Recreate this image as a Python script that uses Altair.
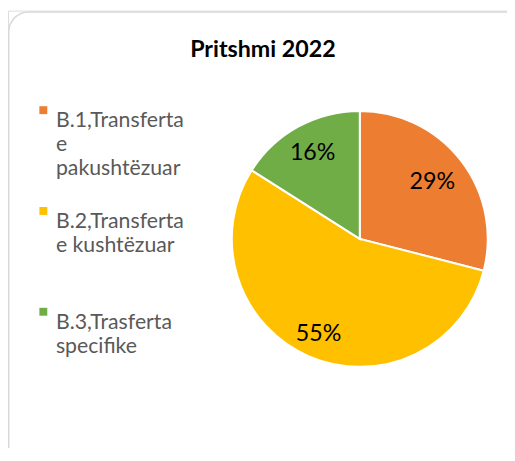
import altair as alt
import pandas as pd

# ---- data ----
categories = [
    "B.1,Transferta e pakushtëzuar",
    "B.2,Transferta e kushtëzuar",
    "B.3,Trasferta specifike",
]
legend_lines = [
    ["B.1,Transferta", "e", "pakushtëzuar"],
    ["B.2,Transferta", "e kushtëzuar", " "],
    ["B.3,Trasferta", "specifike"],
]
shares = [29, 55, 16]
colors = ["#ED7D31", "#FFC000", "#70AD47"]
title_text = "Pritshmi 2022"

# label distance from the centre for each slice (style, per slice)
label_radius = [93, 105, 99]

df = pd.DataFrame({"category": categories, "share": shares})

def js_str(s):
    return "'" + s.replace("'", "\\'") + "'"

lines_js = "[" + ",".join("[" + ",".join(js_str(x) for x in l) + "]" for l in legend_lines) + "]"
cats_js = "[" + ",".join(js_str(c) for c in categories) + "]"
label_expr = f"{lines_js}[indexof({cats_js}, datum.label)]"

CX, CY = 356, 231

color = alt.Color(
    "category:N",
    scale=alt.Scale(domain=categories, range=colors),
    legend=alt.Legend(
        orient="none",
        legendX=25,
        legendY=90,
        title=None,
        symbolType="square",
        symbolSize=64,
        symbolStrokeWidth=0,
        symbolOpacity=1,
        labelFont="Lato",
        labelFontSize=21.5,
        labelColor="#595959",
        labelBaseline="top",
        labelOffset=2,
        labelLimit=0,
        rowPadding=20,
        padding=0,
        labelExpr=label_expr,
    ),
)

base = alt.Chart(df).transform_calculate(
    label="datum.share + '%'"
)

pie = base.mark_arc(radius=129.5, stroke="white", strokeWidth=2).encode(
    theta=alt.Theta("share:Q", stack=True),
    color=color,
    order=alt.Order("category:N"),
    x=alt.value(CX),
    y=alt.value(CY),
)

label_layers = []
for cat, r in zip(categories, label_radius):
    label_layers.append(
        base.mark_text(
            radius=r, font="Lato", fontSize=23.5, color="#000000",
            baseline="middle", align="center"
        ).encode(
            theta=alt.Theta("share:Q", stack=True),
            order=alt.Order("category:N"),
            text=alt.condition(f"datum.category == {js_str(cat)}", "label:N", alt.value("")),
            x=alt.value(CX),
            y=alt.value(CY),
        )
    )

frame_src = alt.Chart(pd.DataFrame({"title": [title_text]}))

frame = frame_src.mark_rect(
    fill="white", stroke="#D9D9D9", strokeWidth=1.5, cornerRadius=20
).encode(
    x=alt.value(0.75), x2=alt.value(530), y=alt.value(1.5), y2=alt.value(520)
)

title = frame_src.mark_text(
    font="Lato", fontSize=23.5, fontWeight="bold", color="#000000",
    align="center", baseline="alphabetic"
).encode(
    text="title:N", x=alt.value(258), y=alt.value(47.3)
)

chart = alt.layer(frame, pie, *label_layers, title).properties(
    width=505,
    height=440,
    autosize=alt.AutoSizeParams(type="none"),
    padding=0,
    background="white",
).configure_view(stroke=None).configure(
    style={"guide-label": {"lineHeight": 24.5}}
)

chart.save("out.html", embed_options={"renderer": "svg", "actions": False})
